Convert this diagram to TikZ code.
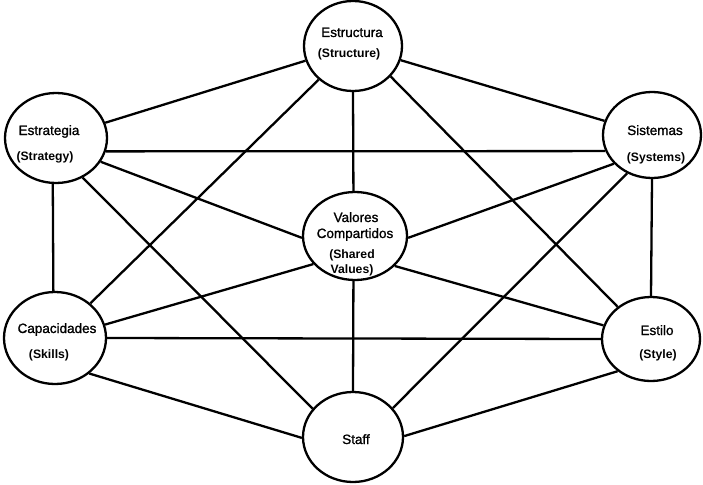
\documentclass[tikz,border=0pt]{standalone}
\usepackage{fontspec}
\setmainfont{Liberation Sans}
\newfontfamily\mediumface[FakeBold=1.2]{Liberation Sans}
\usetikzlibrary{shapes.geometric}
\begin{document}
\begin{tikzpicture}[x=1pt,y=-1pt,
  factor/.style={ellipse, draw, line width=2.3pt, inner sep=0pt},
  link/.style={line width=2.3pt},
  mainline/.style={font=\mediumface\fontsize{13.5}{16}\selectfont, anchor=base, inner sep=0pt},
  subline/.style={font=\bfseries\fontsize{12.2}{14}\selectfont, anchor=base, inner sep=0pt}]
\useasboundingbox (0,0) rectangle (703,484);

% the seven factors
\node[factor, minimum width=98pt,  minimum height=90pt] (ES) at (353,46)  {};
\node[factor, minimum width=102pt, minimum height=90pt] (EG) at (56,138)  {};
\node[factor, minimum width=98pt,  minimum height=86pt] (SI) at (652,135) {};
\node[factor, minimum width=104pt, minimum height=88pt] (VA) at (355,236) {};
\node[factor, minimum width=102pt, minimum height=92pt] (CA) at (55,338)  {};
\node[factor, minimum width=98pt,  minimum height=84pt] (EL) at (651,339) {};
\node[factor, minimum width=100pt, minimum height=90pt] (ST) at (353,437) {};

% labels
\node[mainline] (ES-a) at (352,37) {Estructura};
\node[subline]  (ES-b) at (349,58) {(Structure)};
\node[mainline] (EG-a) at (49,135) {Estrategia};
\node[subline]  (EG-b) at (45,160) {(Strategy)};
\node[mainline] (SI-a) at (655,135) {Sistemas};
\node[subline]  (SI-b) at (656,161) {(Systems)};
\node[mainline] (VA-a) at (356,222) {Valores};
\node[mainline] (VA-b) at (355,238) {Compartidos};
\node[subline]  (VA-c) at (352,258) {(Shared};
\node[subline]  (VA-d) at (352,273) {Values)};
\node[mainline] (CA-a) at (57,333) {Capacidades};
\node[subline]  (CA-b) at (49,358) {(Skills)};
\node[mainline] (EL-a) at (657,335) {Estilo};
\node[subline]  (EL-b) at (658,358) {(Style)};
\node[mainline] (ST-a) at (356,444) {Staff};

% connections
\draw[link] (ES) -- (EG);
\draw[link] (ES) -- (SI);
\draw[link] (ES.south) -- (VA.92);
\draw[link] (ES) -- (CA);
\draw[link] (ES.-39) -- (EL.136);
\draw[link] (EG.-15) -- (SI.199);
\draw[link] (EG.-28) -- (VA.182);
\draw[link] (EG.-94) -- (CA.92);
\draw[link] (EG.-56) -- (ST.145);
\draw[link] (SI.217) -- (VA.-2);
\draw[link] (SI.south) -- (EL.north);
\draw[link] (SI.237) -- (ST.36);
\draw[link] (VA.214) -- (CA.15);
\draw[link] (VA.-37) -- (EL.164);
\draw[link] (VA.-92) -- (ST.north);
\draw[link] (CA.east) -- (EL.west);
\draw[link] (CA.-46) -- (ST.181);
\draw[link] (EL.224) -- (ST.1);
\end{tikzpicture}
\end{document}
